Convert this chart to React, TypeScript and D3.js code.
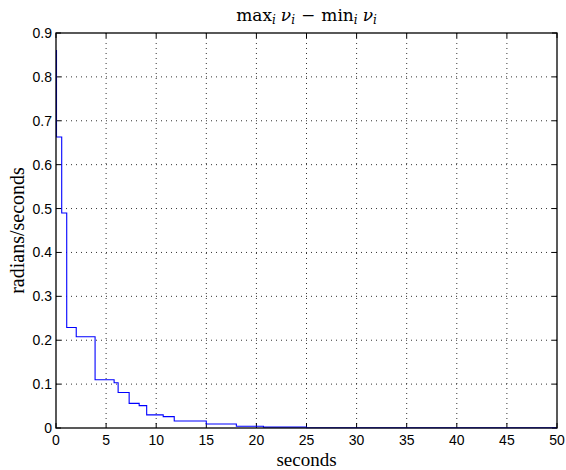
import React from "react";
import * as d3 from "d3";

const times = [0, 0.05, 0.57, 1.07, 2.02, 3.9, 5.8, 6.2, 7.3, 8.3, 9.05, 10.7, 11.8, 15.0, 18.0, 20.7, 25.0, 50];
const values = [0.86, 0.663, 0.49, 0.229, 0.208, 0.11, 0.103, 0.081, 0.056, 0.051, 0.03, 0.026, 0.016, 0.009, 0.004, 0.002, 0.0005, 0.0005];
const xTicks = [0, 5, 10, 15, 20, 25, 30, 35, 40, 45, 50];
const yTicks = [0, 0.1, 0.2, 0.3, 0.4, 0.5, 0.6, 0.7, 0.8, 0.9];

const W = 566, H = 470;
const L = 56, R = 557, T = 33, B = 428;

export default function App() {
  const x = d3.scaleLinear().domain([0, 50]).range([L, R]);
  const y = d3.scaleLinear().domain([0, 0.9]).range([B, T]);
  const pts: [number, number][] = times.map((t, i) => [t, values[i]]);
  const line = d3.line<[number, number]>().x(d => x(d[0])).y(d => y(d[1])).curve(d3.curveStepAfter);
  const tickFont = "'Liberation Sans', Arial, Helvetica, sans-serif";
  const serif = "'Liberation Serif', 'Times New Roman', serif";
  const cm = "'DejaVu Serif', 'Liberation Serif', serif";
  const fmtY = (v: number) => (v === 0 ? "0" : d3.format(".1f")(v));
  return (
    <svg width={W} height={H} style={{ position: "absolute", left: 0, top: 0, background: "#fff" }}>
      <rect x={0} y={0} width={W} height={H} fill="#fff" />
      {xTicks.filter(t => t > 0 && t < 50).map(t => (
        <line key={"gx" + t} x1={x(t)} x2={x(t)} y1={T} y2={B} stroke="#333" strokeWidth={1} strokeDasharray="1,4" />
      ))}
      {yTicks.filter(t => t > 0 && t < 0.9).map(t => (
        <line key={"gy" + t} x1={L} x2={R} y1={y(t)} y2={y(t)} stroke="#333" strokeWidth={1} strokeDasharray="1,4" />
      ))}
      {xTicks.map(t => (
        <g key={"tx" + t}>
          <line x1={x(t)} x2={x(t)} y1={B} y2={B - 5} stroke="#000" />
          <line x1={x(t)} x2={x(t)} y1={T} y2={T + 5} stroke="#000" />
          <text x={x(t)} y={445} textAnchor="middle" fontFamily={tickFont} fontSize={14} fill="#000">{t}</text>
        </g>
      ))}
      {yTicks.map(t => (
        <g key={"ty" + t}>
          <line x1={L} x2={L + 5} y1={y(t)} y2={y(t)} stroke="#000" />
          <line x1={R} x2={R - 5} y1={y(t)} y2={y(t)} stroke="#000" />
          <text x={L - 4} y={y(t) + 5} textAnchor="end" fontFamily={tickFont} fontSize={14} fill="#000">{fmtY(t)}</text>
        </g>
      ))}
      <path d={line(pts) || ""} fill="none" stroke="#0000ff" strokeWidth={1.1} />
      <rect x={L} y={T} width={R - L} height={B - T} fill="none" stroke="#000" strokeWidth={1.3} />
      <text x={(L + R) / 2} y={466} textAnchor="middle" fontFamily={serif} fontSize={19} fill="#000">seconds</text>
      <text transform={`translate(24,${(T + B) / 2}) rotate(-90)`} textAnchor="middle" fontFamily={serif} fontSize={20} fill="#000">radians/seconds</text>
      <text x={(L + R) / 2} y={21} textAnchor="middle" fontFamily={cm} fontSize={17} fill="#000">
        <tspan>max</tspan>
        <tspan fontStyle="italic" fontSize={12} dy={3}>i</tspan>
        <tspan fontStyle="italic" dy={-3} dx={5}>ν</tspan>
        <tspan fontStyle="italic" fontSize={12} dy={3}>i</tspan>
        <tspan dy={-3} dx={6}>−</tspan>
        <tspan dx={6}>min</tspan>
        <tspan fontStyle="italic" fontSize={12} dy={3}>i</tspan>
        <tspan fontStyle="italic" dy={-3} dx={5}>ν</tspan>
        <tspan fontStyle="italic" fontSize={12} dy={3}>i</tspan>
      </text>
    </svg>
  );
}
